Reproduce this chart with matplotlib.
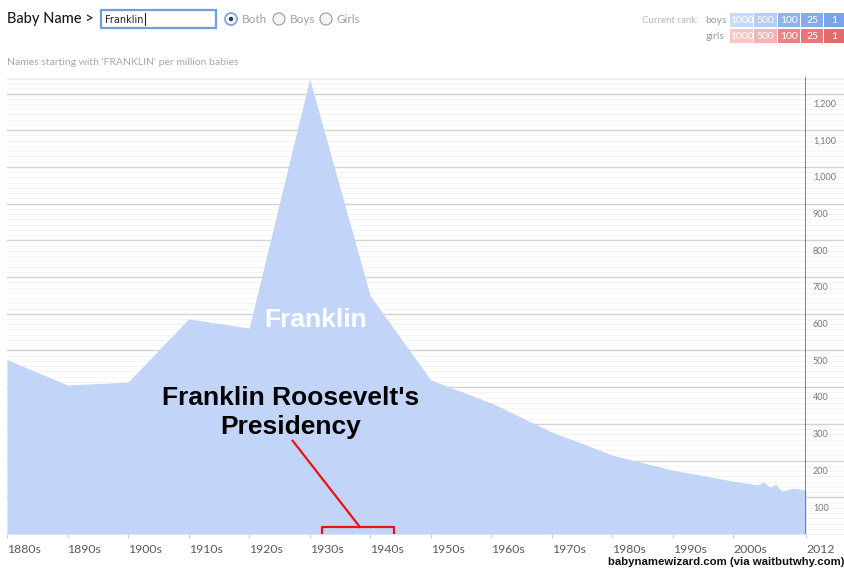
import numpy as np
import matplotlib
matplotlib.use('Agg')
import matplotlib.pyplot as plt
from matplotlib.patches import Rectangle, Circle
from matplotlib.transforms import ScaledTranslation

# data (names starting with FRANKLIN per million babies)
years = [1880, 1890, 1900, 1910, 1920, 1930, 1940, 1950, 1960, 1970, 1980,
         1990, 2000, 2004, 2005, 2006, 2007, 2008, 2010, 2012]
values = [475, 406, 414, 586, 561, 1240, 649, 420, 357, 278, 215,
          174, 144, 134, 142, 128, 135, 117, 125, 120]

decade_ticks = [1880, 1890, 1900, 1910, 1920, 1930, 1940, 1950, 1960, 1970,
                1980, 1990, 2000, 2012]
decade_labels = ['1880s', '1890s', '1900s', '1910s', '1920s', '1930s', '1940s',
                 '1950s', '1960s', '1970s', '1980s', '1990s', '2000s', '2012']
y_ticks = [100, 200, 300, 400, 500, 600, 700, 800, 900, 1000, 1100, 1200]

presidency = (1933, 1945)

rank_levels = ['1000', '500', '100', '25', '1']
boys_colors = ['#c6d9f8', '#b6cdf5', '#8db3ef', '#83abee', '#79a4ec']
girls_colors = ['#f6c6c6', '#f2b4b4', '#e98484', '#e77777', '#e46a6a']

fill_color = '#c2d5f8'
ui_font = 'Lato'

fig = plt.figure(figsize=(8.45, 5.69), dpi=100)

# overlay axes in pixel units for the page header widgets
ui = fig.add_axes([0, 0, 1, 1])
ui.set_xlim(0, 845)
ui.set_ylim(569, 0)
ui.axis('off')

ui.text(7, 19, 'Baby Name >', fontsize=10.5, color='#1a1a1a', family=ui_font,
        fontweight='medium', va='center', ha='left')
ui.add_patch(Rectangle((101, 10), 115, 18, facecolor='white', edgecolor='#6fa0dc', lw=1.6))
ui.text(105, 19.5, 'Franklin', fontsize=7, color='#222222', family='DejaVu Sans',
        va='center', ha='left')
ui.plot([145, 145], [13, 25], color='#222222', lw=0.8)

radio = [(231, 'Both', True), (279, 'Boys', False), (326, 'Girls', False)]
for cx, label, on in radio:
    ui.add_patch(Circle((cx, 19), 6, facecolor='#f4f4f4', edgecolor='#9a9a9a', lw=0.8))
    if on:
        ui.add_patch(Circle((cx, 19), 6, facecolor='none', edgecolor='#7fa8dc', lw=1.2))
        ui.add_patch(Circle((cx, 19), 2.2, facecolor='#233a5e', edgecolor='none'))
    ui.text(cx + 11, 19, label, fontsize=8.5, color='#a0a0a0', family=ui_font,
            va='center', ha='left')

ui.text(7, 62, "Names starting with 'FRANKLIN' per million babies", fontsize=7.5,
        color='#a8a8a8', family=ui_font, va='center', ha='left')

ui.text(699, 20, 'Current rank:', fontsize=7, color='#b8b8b8', family=ui_font,
        va='center', ha='right')
ui.text(727, 20, 'boys', fontsize=7.5, color='#9a9a9a', family=ui_font,
        va='center', ha='right')
ui.text(725, 36, 'girls', fontsize=7.5, color='#9a9a9a', family=ui_font,
        va='center', ha='right')
box_x = [730, 754, 778, 801, 824]
box_w = [23, 23, 22, 22, 21]
for i, lev in enumerate(rank_levels):
    ui.add_patch(Rectangle((box_x[i], 13), box_w[i], 14, facecolor=boys_colors[i], edgecolor='none'))
    ui.add_patch(Rectangle((box_x[i], 29), box_w[i], 14, facecolor=girls_colors[i], edgecolor='none'))
    ui.text(box_x[i] + box_w[i] / 2, 20, lev, fontsize=7.5, color='white',
            family=ui_font, va='center', ha='center')
    ui.text(box_x[i] + box_w[i] / 2, 36, lev, fontsize=7.5, color='white',
            family=ui_font, va='center', ha='center')

ui.text(845, 562, 'babynamewizard.com (via waitbutwhy.com)', fontsize=8.2,
        fontweight='bold', color='#111111', family='Liberation Sans',
        va='center', ha='right')

# main chart
ax = fig.add_axes([7 / 845, 35 / 569, 799 / 845, 457 / 569])
ax.patch.set_alpha(0)
ax.set_xlim(1880, 2012)
ax.set_ylim(0, 1245)

xmax_ext = (845 - 7) / 799
for v in np.arange(0, 1245, 100 / 7):
    ax.axhline(v, xmin=0, xmax=xmax_ext, color='#f3f3f3', lw=0.6, zorder=0, clip_on=False)
for v in y_ticks:
    ax.axhline(v, xmin=0, xmax=xmax_ext, color='#d2d2d2', lw=1.0, zorder=0.5, clip_on=False)
ax.axhline(1240, xmin=0, xmax=xmax_ext, color='#ebebeb', lw=0.8, zorder=0, clip_on=False)

ax.fill_between(years, values, 0, color=fill_color, lw=0, zorder=2)
ax.axvline(2012, color='#6a6a6a', lw=1.2, zorder=3)

for side in ['top', 'left', 'right', 'bottom']:
    ax.spines[side].set_visible(False)

ax.set_xticks(decade_ticks)
ax.set_xticklabels(decade_labels, fontsize=8.8, color='#5a5a5a', family=ui_font)
ax.tick_params(axis='x', length=3, color='#d0d0d0', pad=4)
for lab in ax.get_xticklabels():
    lab.set_horizontalalignment('left')

ax.yaxis.tick_right()
ax.set_yticks(y_ticks)
ax.set_yticklabels([f'{v:,}' for v in y_ticks], fontsize=6.5, color='#777777', family=ui_font)
ax.tick_params(axis='y', length=0, pad=5)
shift = ScaledTranslation(0, -7 / 72, fig.dpi_scale_trans)
for lab in ax.get_yticklabels():
    lab.set_transform(lab.get_transform() + shift)

ax.text(1931, 584, 'Franklin', fontsize=19, fontweight='bold', color='white',
        family='Liberation Sans', ha='center', va='center', zorder=4)
ax.text(1926.8, 330, "Franklin Roosevelt's\nPresidency", fontsize=19,
        fontweight='bold', color='black', family='Liberation Sans',
        ha='center', va='center', linespacing=1.25, zorder=4)

mid = (presidency[0] + presidency[1]) / 2 - 0.7
ax.plot([1927.2, mid], [254, 19], color='#ee1111', lw=1.6, zorder=4)
ax.plot([presidency[0] - 1, presidency[0] - 1, presidency[1] - 1, presidency[1] - 1],
        [0, 19, 19, 0], color='#ee1111', lw=1.6, zorder=4)

fig.savefig('out.png', dpi=100)
